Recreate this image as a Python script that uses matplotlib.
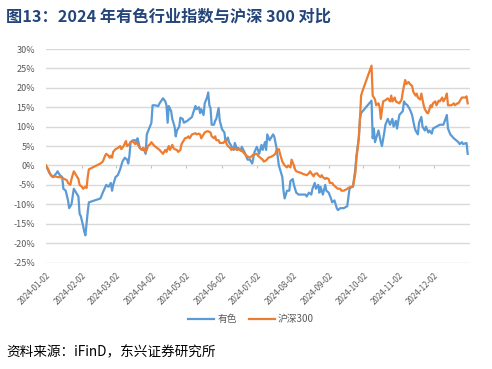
import numpy as np
import matplotlib
matplotlib.use('Agg')
import matplotlib.pyplot as plt
import matplotlib.dates as mdates
import pandas as pd

plt.rcParams['font.family'] = ['Noto Sans CJK SC', 'DejaVu Sans']

# 有色 (nonferrous index), cumulative return %
ys_dates = ['01-02','01-05','01-08','01-11','01-12','01-14','01-16','01-17','01-19','01-21',
            '01-22','01-24','01-26','01-28','01-30','01-31','02-01','02-03','02-04','02-05',
            '02-07','02-08','02-18','02-20','02-23','02-25','02-27','02-28','02-29','03-02',
            '03-04','03-06','03-08','03-10','03-12','03-13','03-14','03-15','03-17','03-19',
            '03-20','03-21','03-23','03-25','03-26','03-28','03-29','03-31','04-02','04-03',
            '04-05','04-08','04-09','04-12','04-14','04-15','04-16','04-17','04-19','04-20',
            '04-22','04-23','04-24','04-26','04-27','04-29','04-30','05-03','05-05','05-07',
            '05-08','05-10','05-11','05-13','05-14','05-15','05-17','05-18','05-20','05-21',
            '05-22','05-23','05-24','05-26','05-27','05-28','05-30','05-31','06-02','06-04',
            '06-05','06-07','06-08','06-10','06-12','06-13','06-15','06-16','06-18','06-19',
            '06-22','06-24','06-26','06-28','06-30','07-02','07-04','07-06','07-07','07-09',
            '07-10','07-11','07-13','07-14','07-16','07-17','07-19','07-21','07-24','07-25',
            '07-26','07-28','07-30','07-31','08-02','08-03','08-05','08-07','08-10','08-13',
            '08-14','08-16','08-18','08-19','08-21','08-22','08-24','08-25','08-26','08-28',
            '08-30','08-31','09-02','09-04','09-05','09-07','09-09','09-10','09-12','09-15',
            '09-18','09-20','09-22','09-23','09-25','09-26','09-28','09-29','09-30','10-09',
            '10-10','10-11','10-12','10-14','10-15','10-17','10-18','10-20','10-21','10-23',
            '10-25','10-27','10-28','10-30','10-31','11-02','11-05','11-06','11-07','11-09',
            '11-11','11-13','11-15','11-16','11-18','11-19','11-21','11-22','11-24','11-25',
            '11-27','11-28','11-30','12-01','12-04','12-07','12-10','12-11','12-13','12-14',
            '12-16','12-19','12-21','12-23','12-24','12-26','12-27','12-30','12-31']
ys_vals = [0,-2,-3,-2,-1.5,-2.5,-3,-6,-6.5,-9,
           -11,-10,-6,-7,-8,-12.5,-13,-15.5,-17,-18,
           -12,-9.5,-8.5,-7,-5,-5.5,-4.5,-6.5,-5,-3,
           -2.5,-1,1,2,1.5,0.5,2.5,6,6.5,6.5,
           6,7,4.5,4,4.5,3,8,9.5,11,15.5,
           15.5,15.3,16,17.3,16.5,15.5,11,15.3,14,12,
           10,7.5,9,10,12.3,12,11,11.5,12,12.5,
           13.5,15.3,14.5,15,13.5,14.5,13,16,17.5,18.8,
           15.5,14.8,10.5,10.5,11.5,12,14.8,11.5,9.3,8.5,
           6,7.2,6,5,4,5.8,4,4.5,3.8,4.8,
           3,1.5,1.5,0.5,3.5,4.8,3,5.3,4,6,
           4,8,6.5,7,8,7.5,4.5,0,-3,-6.5,
           -8.5,-6.5,-6.5,-4,-3.5,-5,-7,-7.5,-7.5,-7.5,
           -8,-7,-7.5,-6,-4.5,-6,-5,-7,-5.5,-7.5,
           -5,-6.5,-7,-8.5,-9.5,-9,-11,-11.5,-11,-11,
           -10.5,-6,-5.5,-5.5,-1,2.5,7,12,13.5,16.7,
           7,9.5,6,8,9,6,5,8.5,10.5,12,
           10.5,12,10,11.5,9.5,13,14,16.5,16,15.5,
           14.5,13,10,9,8,11,12.5,10,9,10,
           8.5,9,8.2,9.5,10,10.5,10.5,11.3,13,9.5,
           8,7,6.5,6,5.5,6,5.5,5.8,3]

# 沪深300, cumulative return %
hs_dates = ['01-02','01-04','01-06','01-08','01-10','01-12','01-14','01-16','01-18','01-20',
            '01-21','01-23','01-24','01-26','01-27','01-28','01-30','01-31','02-02','02-03',
            '02-05','02-06','02-07','02-08','02-18','02-20','02-22','02-23','02-25','02-26',
            '02-27','02-28','02-29','03-02','03-04','03-06','03-07','03-09','03-11','03-12',
            '03-14','03-15','03-17','03-19','03-20','03-22','03-23','03-25','03-26','03-28',
            '03-29','03-30','04-01','04-02','04-04','04-07','04-09','04-12','04-14','04-15',
            '04-17','04-18','04-20','04-21','04-22','04-24','04-25','04-27','04-28','04-30',
            '05-01','05-03','05-04','05-05','05-07','05-10','05-11','05-13','05-14','05-15',
            '05-17','05-18','05-20','05-21','05-23','05-24','05-26','05-27','05-28','05-30',
            '05-31','06-03','06-05','06-06','06-07','06-09','06-10','06-12','06-15','06-17',
            '06-20','06-23','06-26','06-29','07-02','07-03','07-05','07-07','07-08','07-10',
            '07-12','07-14','07-16','07-18','07-19','07-21','07-22','07-24','07-25','07-26',
            '07-28','07-29','07-31','08-01','08-03','08-04','08-05','08-08','08-11','08-14',
            '08-16','08-17','08-18','08-20','08-21','08-23','08-24','08-26','08-27','08-28',
            '08-30','08-31','09-02','09-03','09-05','09-06','09-08','09-09','09-10','09-12',
            '09-13','09-15','09-17','09-19','09-21','09-22','09-23','09-25','09-26','09-28',
            '09-29','09-30','10-01','10-09','10-10','10-12','10-13','10-15','10-16','10-17',
            '10-19','10-21','10-23','10-25','10-26','10-27','10-29','10-30','11-02','11-04',
            '11-05','11-07','11-08','11-10','11-11','11-13','11-14','11-16','11-17','11-18',
            '11-20','11-21','11-23','11-24','11-26','11-27','11-29','11-30','12-01','12-03',
            '12-04','12-06','12-07','12-09','12-10','12-12','12-13','12-14','12-16','12-17',
            '12-19','12-20','12-22','12-23','12-24','12-26','12-27','12-29','12-30','12-31']
hs_vals = [0,-1,-2.5,-3,-2.8,-3,-3,-3.2,-3.5,-3.8,
           -4.5,-5,-3.5,-1.5,-2,-2.5,-3.5,-5,-5.5,-6,
           -5.5,-5.8,-3,-1,0.5,1,2.5,3,2.5,2,
           2.5,2,3.5,4.2,4.5,5,4.2,5,6.3,5,
           5.5,6,6.2,5.5,6,5,4.5,4,4.5,3.5,
           4,5,5.5,6,5.2,4.5,4,3,4,3.5,
           5,4,5.3,4.5,4.2,4,3.5,4,5.5,6.5,
           7,7.2,7.5,7,8,8.3,8,8.2,8,7,
           8,8.5,8.8,8.8,8.5,7.5,7,7.5,6.5,6.5,
           5.8,5.8,6.5,5.5,5,4.5,4,4.5,4,4.2,
           3.5,2.5,2,2.8,3,2.5,2,1.5,1,1.3,
           2,2.2,2.5,3,4,4.2,3,1,0.5,0,
           -0.5,0,-0.5,1.5,0,-1,-1.5,-1.8,-2.2,-2.5,
           -2,-1.5,-2,-2.8,-2.2,-2,-2.5,-3,-2.5,-3,
           -3.5,-3.2,-3.5,-4.5,-4.5,-5,-5.5,-5.8,-6,-6,
           -6.5,-6.5,-6.2,-5.8,-5.5,-5.5,-5.3,-2,2,7,
           12,18,19,25.7,18,17,15.5,16,15,12,
           16.5,16.8,17.3,16.5,18,16.5,17.5,16.5,16,17,
           19,22,21,21.5,21,20.5,19,18,18.5,17.5,
           17,18.5,15.5,14.5,13.5,13.5,15.5,15,16,16.5,
           15.5,16.7,16.5,17.5,16.5,17.5,18.5,15.5,15.5,15.5,
           16,15.5,16,16,16.5,17.5,17.5,17.5,17.8,16]

month_ticks = ['2024-01-02','2024-02-02','2024-03-02','2024-04-02','2024-05-02','2024-06-02',
               '2024-07-02','2024-08-02','2024-09-02','2024-10-02','2024-11-02','2024-12-02']
y_ticks = [-25,-20,-15,-10,-5,0,5,10,15,20,25,30]

ys_x = pd.to_datetime(['2024-' + d for d in ys_dates])
hs_x = pd.to_datetime(['2024-' + d for d in hs_dates])
tick_x = pd.to_datetime(month_ticks)

fig = plt.figure(figsize=(4.92, 3.69), dpi=100)
ax = fig.add_axes([0.0935, 0.2886, 0.8618, 0.5786])

ax.plot(ys_x, ys_vals, color='#5B9BD5', lw=1.6, label='有色')
ax.plot(hs_x, hs_vals, color='#ED7D31', lw=1.6, label='沪深300')

ax.set_xlim(pd.Timestamp('2024-01-02'), pd.Timestamp('2025-01-02'))
ax.set_ylim(-25, 30)
ax.set_yticks(y_ticks)
ax.set_yticklabels([f'{v}%' for v in y_ticks])
ax.grid(axis='y', color='#D9D9D9', lw=1.0)
ax.set_axisbelow(True)
for s in ax.spines.values():
    s.set_visible(False)
ax.tick_params(axis='y', length=0, pad=8, labelsize=6.5, labelcolor='#595959')

ax.set_xticks(tick_x)
ax.set_xticklabels(month_ticks, rotation=45, ha='right', rotation_mode='anchor')
ax.tick_params(axis='x', length=0, pad=6, labelsize=5.8, labelcolor='#595959')

# horizontal axis crosses at 0% with small tick marks
sec = ax.secondary_xaxis(25 / 55)
sec.set_xticks(tick_x)
sec.set_xticklabels([])
sec.spines['bottom'].set_visible(False)
sec.tick_params(axis='x', direction='out', length=2.5, width=0.8, color='#BFBFBF')

fig.text(0.012, 0.955, '图13：2024 年有色行业指数与沪深 300 对比', fontsize=11.7,
         fontweight='bold', color='#24457A', va='center', ha='left')

fig.legend(loc='center', bbox_to_anchor=(0.51, 0.135), ncol=2, frameon=False,
           fontsize=7, handlelength=2.7, columnspacing=1.2, handletextpad=0.3,
           labelcolor='#595959')

fig.text(0.012, 0.045, '资料来源：iFinD，东兴证券研究所', fontsize=9.8, style='italic',
         color='#000000', va='center', ha='left')

fig.savefig('out.png', dpi=100)
